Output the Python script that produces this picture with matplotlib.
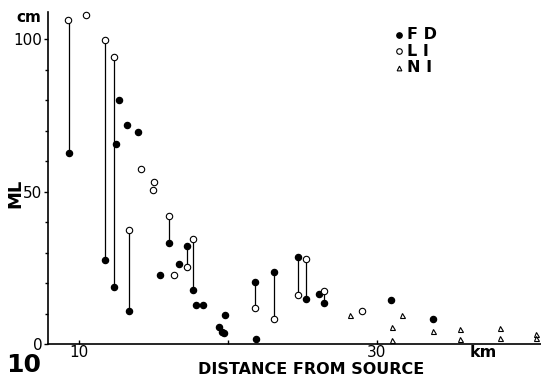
import matplotlib.pyplot as plt
import numpy as np

# FD (solid dots), LI (open circles), NI (triangles): distance km, ML cm
fd_km = [9.33, 11.72, 12.33, 12.71, 13.22, 13.94, 12.48, 13.38, 16.06, 15.46, 16.69,
         17.27, 17.63, 17.83, 18.30, 19.80, 19.42, 19.58, 19.75, 21.86, 21.81, 23.09,
         24.70, 25.27, 26.13, 26.44, 30.94, 33.74]
fd_cm = [62.8, 27.5, 18.8, 80.0, 71.9, 69.6, 65.8, 10.7, 33.0, 22.7, 26.3,
         32.2, 17.8, 12.8, 12.8, 9.4, 5.5, 3.8, 3.6, 1.5, 20.5, 23.7,
         28.5, 14.9, 16.3, 13.3, 14.4, 8.1]
li_km = [9.28, 10.47, 11.72, 12.33, 14.14, 15.05, 14.94, 13.38, 16.06, 16.35,
         17.27, 17.63, 21.81, 23.09, 24.70, 25.27, 26.44, 29.01]
li_cm = [106.2, 107.9, 99.9, 94.2, 57.6, 53.2, 50.5, 37.4, 42.0, 22.5,
         25.2, 34.4, 11.7, 8.3, 16.2, 28.0, 17.5, 10.7]
ni_km = [28.19, 31.68, 31.0, 31.03, 33.74, 35.6, 35.6, 38.26, 38.26, 40.65, 40.7]
ni_cm = [9.4, 9.4, 5.7, 1.3, 4.4, 4.8, 1.6, 5.3, 2.1, 3.3, 1.9]

# paired observations joined by vertical lines (km, top, bottom)
pair_km = [9.3, 11.72, 12.33, 13.38, 16.06, 17.27, 17.63, 21.81, 23.09, 24.70, 25.27, 26.44]
pair_hi = [106.2, 99.9, 94.2, 37.4, 42.0, 32.2, 34.4, 20.5, 23.7, 28.5, 28.0, 17.5]
pair_lo = [62.8, 27.5, 18.8, 10.7, 33.0, 25.2, 17.8, 11.7, 8.3, 16.2, 14.9, 13.3]

fig = plt.figure(figsize=(5.41, 3.8), dpi=100)
ax = fig.add_axes([0.0887, 0.0947, 0.911, 0.874])

ax.vlines(pair_km, pair_lo, pair_hi, colors='k', lw=0.9, zorder=1)
ax.plot(fd_km, fd_cm, 'o', ms=4.4, color='k', clip_on=False, zorder=3)
ax.plot(li_km, li_cm, 'o', ms=4.6, mfc='white', mec='k', mew=0.8, clip_on=False, zorder=3)
ax.plot(ni_km, ni_cm, '^', ms=3.6, mfc='white', mec='k', mew=0.8, clip_on=False, zorder=3)

ax.set_xlim(7.92, 41.0)
ax.set_ylim(0, 109)
for s in ['top', 'right']:
    ax.spines[s].set_visible(False)
ax.spines['left'].set_linewidth(1.2)
ax.spines['bottom'].set_linewidth(1.2)

ax.set_yticks([0, 50, 100])
ax.set_yticks(np.arange(10, 100, 10), minor=True)
ax.set_xticks([10, 20, 30])
ax.set_xticklabels(['10', '', '30'])
ax.tick_params(axis='both', which='major', length=3, width=1, labelsize=11, pad=1)
ax.tick_params(axis='y', which='minor', length=2, width=1)
ax.tick_params(axis='x', which='major', direction='in', length=3)

fig.text(0.053, 0.955, 'cm', fontsize=11, fontweight='bold', ha='center', va='center')
fig.text(0.028, 0.492, 'ML', fontsize=13, fontweight='bold', rotation=90, ha='center', va='center')
fig.text(0.044, 0.04, '10', fontsize=18, fontweight='bold', ha='center', va='center')
fig.text(0.575, 0.027, 'DISTANCE FROM SOURCE', fontsize=11.5, fontweight='bold', ha='center', va='center')
fig.text(0.893, 0.073, 'km', fontsize=11.5, fontweight='bold', ha='center', va='center')

# legend drawn as in the original: marker then label
leg_y = [0.908, 0.865, 0.822]
leg_m = [dict(marker='o', mfc='k', ms=4), dict(marker='o', mfc='white', ms=4),
         dict(marker='^', mfc='white', ms=3.4)]
leg_t = ['F D', 'L I', 'N I']
for yy, m, t in zip(leg_y, leg_m, leg_t):
    fig.lines.append(plt.Line2D([0.738], [yy], transform=fig.transFigure, mec='k', mew=0.8,
                                ls='none', **m))
    fig.text(0.752, yy, t, fontsize=11.5, fontweight='bold', ha='left', va='center')

fig.savefig('out.png', dpi=100)
